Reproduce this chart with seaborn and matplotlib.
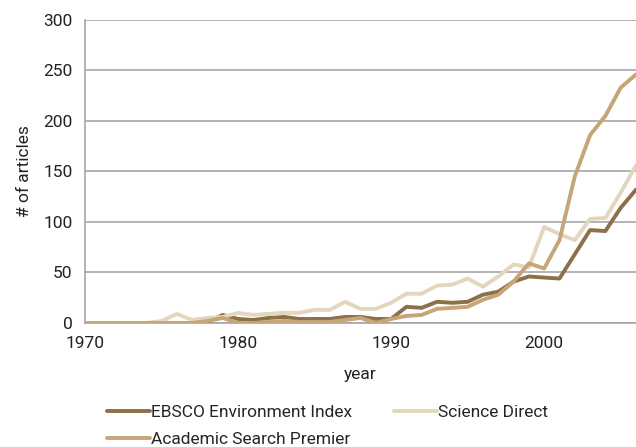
import numpy as np
import pandas as pd
import seaborn as sns
import matplotlib.pyplot as plt

years = list(range(1970, 2007))

ebsco = [0, 0, 0, 0, 0, 0, 0, 0, 1, 8, 4, 3, 5, 6, 4, 4, 4, 6, 6, 4,
         4, 16, 15, 21, 20, 21, 28, 31, 41, 46, 45, 44, 68, 92, 91, 114, 132]
science = [0, 0, 0, 0, 0, 2, 9, 3, 5, 6, 10, 8, 9, 10, 10, 13, 13, 21, 14, 14,
           20, 29, 29, 37, 38, 44, 36, 46, 58, 55, 95, 88, 82, 103, 104, 129, 156]
academic = [0, 0, 0, 0, 0, 0, 0, 0, 2, 5, 0, 0, 1, 2, 1, 1, 1, 3, 5, 0,
            4, 7, 8, 14, 15, 16, 23, 28, 41, 59, 54, 82, 145, 186, 205, 233, 246]

series_names = ["EBSCO Environment Index", "Science Direct", "Academic Search Premier"]
colors = ["#8c7049", "#e4d5bd", "#c6a677"]

df = pd.DataFrame({
    "year": years * 3,
    "n": ebsco + science + academic,
    "source": np.repeat(series_names, len(years)),
})

sns.set_style("white")
plt.rcParams["font.family"] = ["Roboto", "DejaVu Sans"]
fs = 12.5

fig = plt.figure(figsize=(6.36, 4.47), dpi=100)
ax = fig.add_axes([0.1336, 0.2774, 0.8664, 0.678])

sns.lineplot(data=df, x="year", y="n", hue="source", hue_order=series_names,
             palette=colors, linewidth=2.8, ax=ax, legend=False,
             zorder=3)

ax.set_xlim(1970, 2006)
ax.set_ylim(0, 300)
ax.set_xticks([1970, 1980, 1990, 2000])
ax.set_yticks(range(0, 301, 50))
ax.yaxis.grid(True, color="#a6a6a6", linewidth=1.2)
ax.set_axisbelow(True)
for s in ["top", "right"]:
    ax.spines[s].set_visible(False)
for s in ["left", "bottom"]:
    ax.spines[s].set_color("#a6a6a6")
    ax.spines[s].set_linewidth(1.2)
ax.tick_params(axis="both", colors="#a6a6a6", labelcolor="#222222",
               labelsize=fs, length=5, width=1, direction="out", pad=4)
ax.set_xlabel("year", fontsize=fs, color="#222222", labelpad=12)
ax.set_ylabel("# of articles", fontsize=fs, color="#222222", labelpad=8)

# column-major fill: col 1 = EBSCO, Academic; col 2 = Science Direct
order = [0, 2, 1]
handles = [plt.Line2D([], [], color=colors[i], linewidth=2.8) for i in order]
labels = [series_names[i] for i in order]
fig.legend(handles, labels, loc="upper left",
           bbox_to_anchor=(0.168, 0.095), ncol=2, frameon=False,
           fontsize=fs, handlelength=2.5, handletextpad=0.05,
           columnspacing=2.4, labelspacing=0.7, borderaxespad=0,
           borderpad=0)

fig.savefig("out.png", dpi=100)
